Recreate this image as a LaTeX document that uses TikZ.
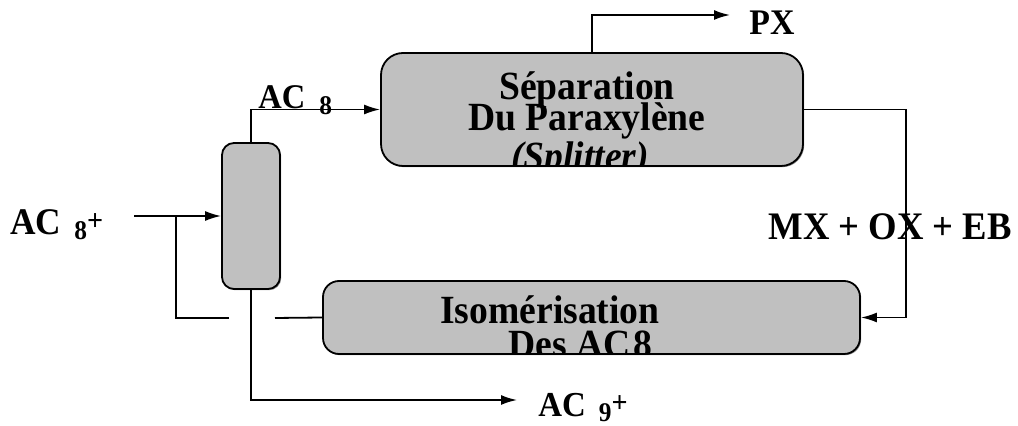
\documentclass[tikz,border=0pt]{standalone}
\usepackage{fontspec}
\setmainfont{Liberation Serif}[FakeStretch=0.94]
\usepackage{xcolor}
\definecolor{unitgray}{RGB}{192,192,192}
\usetikzlibrary{arrows.meta,positioning,shadows}
\tikzset{
  unit/.style={draw, line width=0.9pt, fill=unitgray, rounded corners=#1,
               drop shadow={shadow xshift=0.6pt, shadow yshift=-0.6pt, fill=black, opacity=0.45},
               inner sep=0pt},
  flow/.style={line width=0.9pt},
  arr/.style={flow, -{Latex[length=8pt, width=5pt]}},
  boxtext/.style={anchor=base, inner sep=0pt, font=\fontsize{20}{20}\selectfont\bfseries},
  lbl/.style={anchor=base west, inner sep=0pt, font=\fontsize{#1}{#1}\selectfont\bfseries},
}
\newcommand{\subnum}[3]{\raisebox{#1}{\fontsize{#2}{#2}\selectfont #3}}

\begin{document}
\begin{tikzpicture}[x=0.5pt, y=-0.5pt]
\useasboundingbox (0,0) rectangle (1018,426);

% Units
\node[unit=6pt, minimum width=29pt, minimum height=73pt] (col) at (251,216) {};
\node[unit=11pt, minimum width=211pt, minimum height=56.5pt] (sep) at (592,109.5) {};
\node[unit=8pt, minimum width=268.5pt, minimum height=36.5pt] (iso) at (591.5,317.5) {};

% Texts inside the units (cut at the box edge)
\begin{scope}
  \clip[rounded corners=11pt] (sep.south west) rectangle (sep.north east);
  \node[boxtext] (sep1) at (587,100) {Séparation};
  \node[boxtext] (sep2) at (587,131) {Du Paraxylène};
  \node[boxtext] (sep3) at (580,170) {\itshape(Splitter)};
\end{scope}
\begin{scope}
  \clip[rounded corners=8pt] (iso.south west) rectangle (iso.north east);
  \node[boxtext] (iso1) at (550,324) {Isomérisation};
  \node[boxtext, anchor=base west] (iso2) at (508,358) {Des AC\kern1.5pt8};
\end{scope}

% Junctions
\coordinate (feed) at (134,216);
\coordinate (feedjoin) at (176,216);
\coordinate (gapL) at (229,318);
\coordinate (gapR) at (275,318);
\coordinate (pxend) at (730,15);
\coordinate (rturn) at (906,110);
\coordinate (ac9end) at (517,400);

% Streams
\draw[arr] (feed) -- (col.west);
\draw[flow] (gapL) -| (feedjoin);
\draw[flow] (iso.west) -- (gapR);
\draw[arr] (col.north) |- (sep.west);
\draw[arr] (sep.north) |- (pxend);
\draw[arr] (sep.east) -- (sep.east -| rturn) |- (iso.east);
\draw[arr] (col.south) |- (ac9end);

% Labels
\node[lbl=18.8] (ac8in) at (10,235) {AC\hspace{6.5pt}\subnum{-2.5pt}{13.5}{8}\subnum{2pt}{15}{+}};
\node[lbl=17.3] (ac8top) at (258,109) {AC\hspace{7pt}\subnum{-3pt}{13.5}{8}};
\node[lbl=18] (px) at (749,35) {PX};
\node[lbl=19.5] (mix) at (768,240) {MX + OX + EB};
\node[lbl=17.5] (ac9) at (538,417) {AC\hspace{6.5pt}\subnum{-2.5pt}{13.5}{9}\subnum{2pt}{15}{+}};

\end{tikzpicture}
\end{document}
